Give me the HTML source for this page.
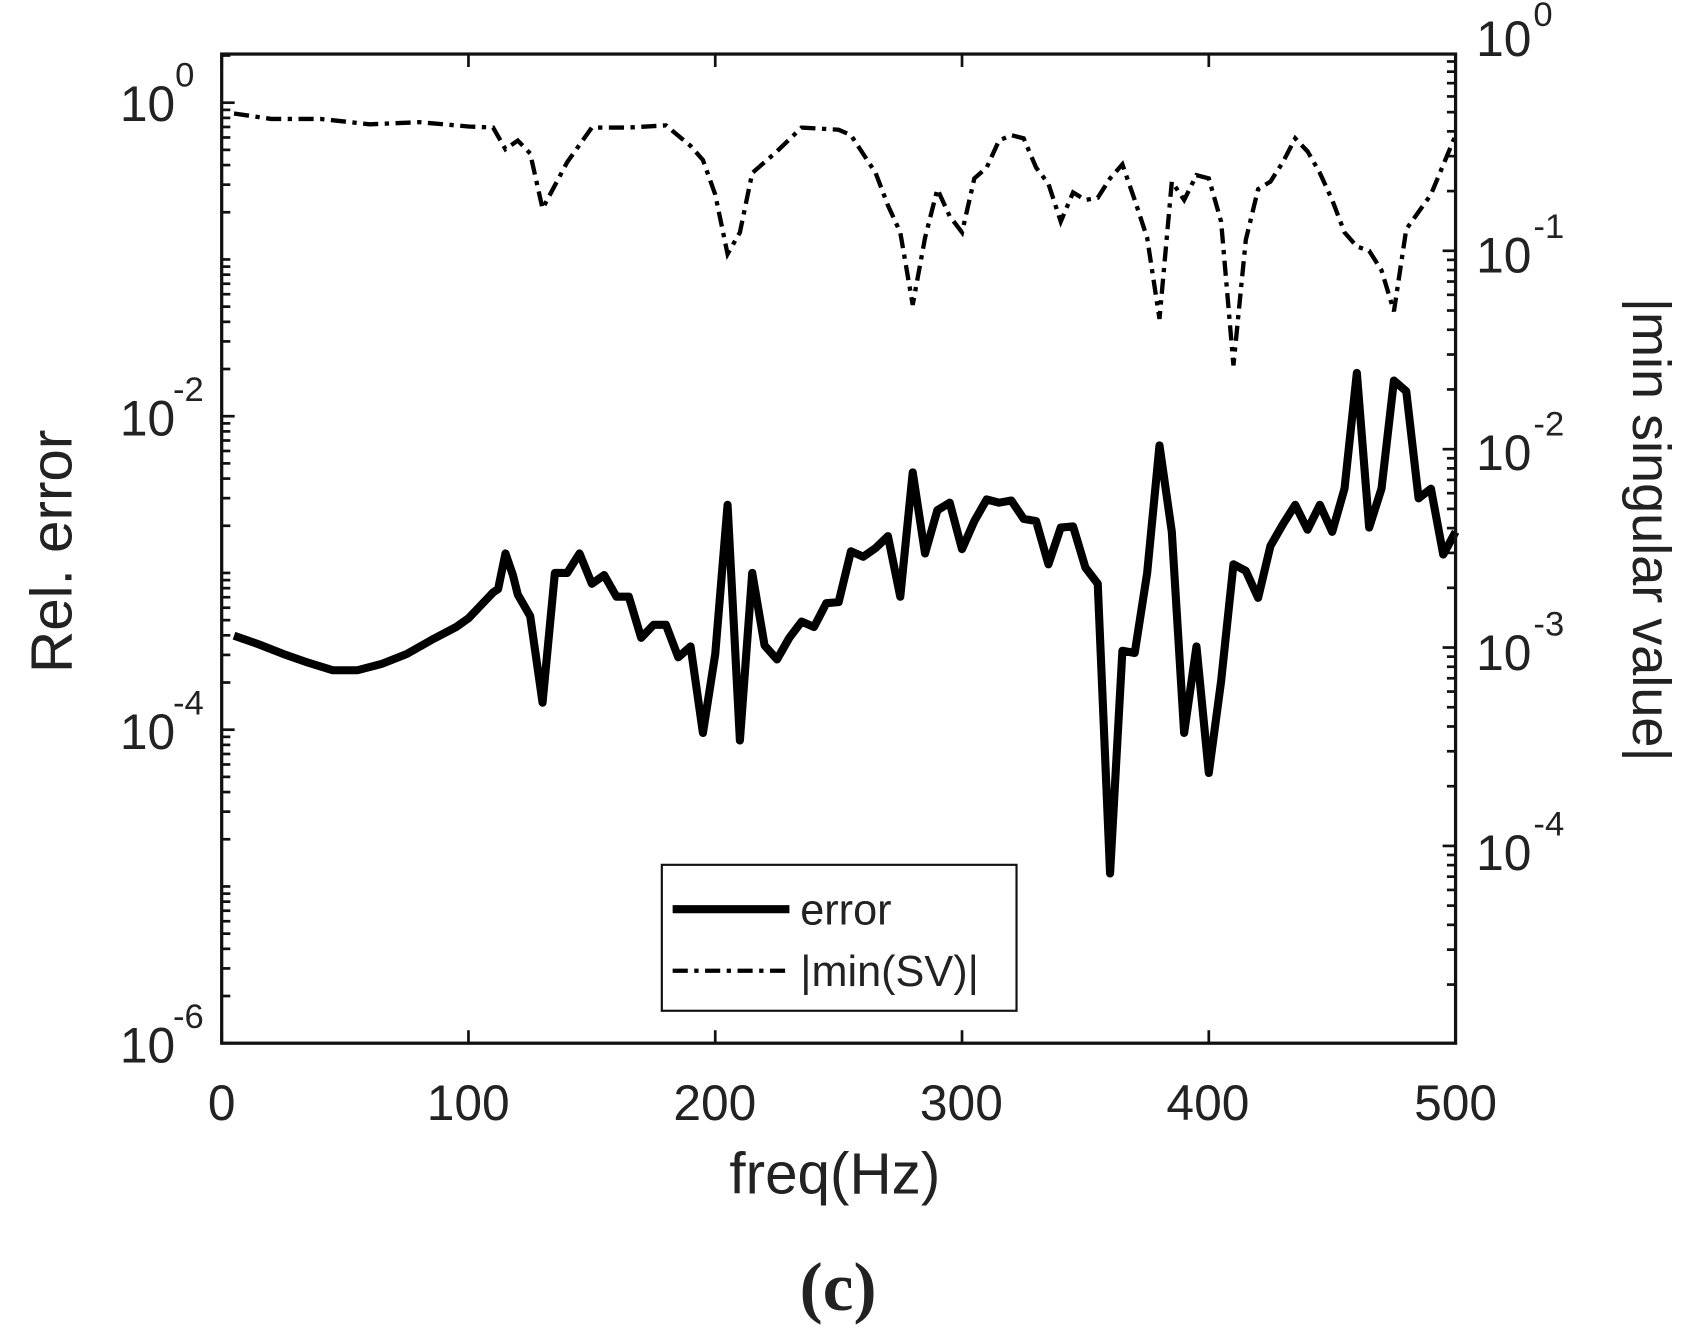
<!DOCTYPE html>
<html><head><meta charset="utf-8"><style>
html,body{margin:0;padding:0;background:#fff;}
svg{display:block;font-family:"Liberation Sans",Arial,sans-serif;}
</style></head><body>
<svg id="s" width="1687" height="1334" viewBox="0 0 1560 1234" preserveAspectRatio="none" xmlns="http://www.w3.org/2000/svg">
<rect x="0" y="0" width="1560" height="1234" fill="#fff"/>
<g id="ticks" stroke="#111" stroke-width="2.5"></g>
<polyline id="sv" fill="none" stroke="#000" stroke-width="4" stroke-dasharray="14,6,4,6"/>
<polyline id="er" fill="none" stroke="#000" stroke-width="7.5" stroke-linejoin="round"/>
<rect x="205" y="50" width="1141" height="915" fill="none" stroke="#111" stroke-width="3"/>
<g font-size="46" fill="#222">
<text x="205" y="1036" text-anchor="middle">0</text>
<text x="433" y="1036" text-anchor="middle">100</text>
<text x="661" y="1036" text-anchor="middle">200</text>
<text x="889" y="1036" text-anchor="middle">300</text>
<text x="1117" y="1036" text-anchor="middle">400</text>
<text x="1346" y="1036" text-anchor="middle">500</text>
<text x="162" y="112" text-anchor="end">10</text><text x="162" y="80" font-size="32">0</text>
<text x="162" y="403" text-anchor="end">10</text><text x="160" y="371" font-size="32">-2</text>
<text x="162" y="693" text-anchor="end">10</text><text x="160" y="661" font-size="32">-4</text>
<text x="162" y="983" text-anchor="end">10</text><text x="160" y="951" font-size="32">-6</text>
<text x="1365" y="52">10</text><text x="1418" y="24" font-size="32">0</text>
<text x="1365" y="252">10</text><text x="1418" y="220" font-size="32">-1</text>
<text x="1365" y="435">10</text><text x="1418" y="403" font-size="32">-2</text>
<text x="1365" y="620">10</text><text x="1418" y="588" font-size="32">-3</text>
<text x="1365" y="805">10</text><text x="1418" y="773" font-size="32">-4</text>
<text x="772" y="1104" text-anchor="middle" font-size="54">freq(Hz)</text>
<text transform="translate(66,510) rotate(-90)" text-anchor="middle" font-size="54">Rel. error</text>
<text transform="translate(1510,490) rotate(90)" text-anchor="middle" font-size="50">|min singular value|</text>
</g>
<text x="775" y="1212" text-anchor="middle" font-size="64" font-weight="bold" font-family="Liberation Serif,serif" fill="#222">(c)</text>
<rect x="612" y="800" width="328" height="135" fill="#fff" stroke="#111" stroke-width="2"/>
<line x1="622" y1="841" x2="730" y2="841" stroke="#000" stroke-width="7.5"/>
<line x1="622" y1="898" x2="730" y2="898" stroke="#000" stroke-width="4" stroke-dasharray="14,6,4,6"/>
<text x="740" y="855" font-size="40" fill="#222">error</text>
<text x="740" y="912" font-size="40" fill="#222">|min(SV)|</text>
</svg>
<script>
var X=function(f){return 205+f*2.282;};
var er=[[5,588],[15,596],[25,605],[35,613],[45,620],[55,620],[65,614],[75,605],[85,592],[95,580],[100,572],[105,560],[110,548],[112,545],[115,512],[118,532],[120,550],[125,570],[130,650],[135,530],[140,530],[145,512],[150,540],[155,532],[160,552],[165,552],[170,590],[175,578],[180,578],[185,608],[190,598],[195,678],[200,605],[205,467],[210,685],[215,530],[220,597],[225,610],[230,590],[235,575],[240,580],[245,558],[250,557],[255,510],[260,515],[265,507],[270,496],[275,552],[280,437],[285,512],[290,472],[295,465],[300,508],[305,482],[310,462],[315,465],[320,463],[325,480],[330,482],[335,522],[340,488],[345,487],[350,525],[355,540],[360,808],[365,602],[370,604],[375,530],[380,412],[385,492],[390,678],[395,598],[400,715],[405,630],[410,522],[415,528],[420,553],[425,505],[430,485],[435,467],[440,490],[445,467],[450,492],[455,452],[460,345],[465,488],[470,452],[475,352],[480,362],[485,461],[490,452],[495,513],[500,492]];
var sv=[[5,105],[20,110],[40,110],[60,115],[80,113],[100,117],[110,118],[115,138],[120,130],[125,142],[130,193],[140,150],[150,118],[165,118],[180,116],[190,135],[195,148],[200,180],[205,235],[210,215],[215,160],[225,140],[235,118],[250,120],[255,125],[265,160],[270,190],[275,215],[280,282],[285,220],[290,175],[295,200],[300,215],[305,165],[310,155],[315,130],[320,125],[325,128],[330,155],[335,170],[340,205],[345,178],[350,185],[355,183],[360,165],[365,152],[370,185],[375,220],[380,295],[385,168],[390,185],[395,162],[400,165],[405,205],[410,338],[415,222],[420,175],[425,168],[430,150],[435,128],[440,140],[445,160],[450,185],[455,215],[460,228],[465,232],[470,250],[475,288],[480,212],[490,180],[500,125]];
function pts(a){return a.map(function(p){return X(p[0]).toFixed(1)+","+p[1];}).join(" ");}
document.getElementById("er").setAttribute("points",pts(er));
document.getElementById("sv").setAttribute("points",pts(sv));
var g=document.getElementById("ticks"),h="";
function L(x1,y1,x2,y2){h+='<line x1="'+x1+'" y1="'+y1+'" x2="'+x2+'" y2="'+y2+'"/>';}
for(var f=0;f<=500;f+=100){var x=X(f);L(x,965,x,953);L(x,50,x,62);}
for(var d=1;d>=-6;d--){for(var m=1;m<=9;m++){var y=95-(d+Math.log10(m))*145;if(y<50||y>965)continue;var len=(m==1&&(d%2==0))?12:8;L(205,y,205+len,y);}}
for(var d=0;d>=-5;d--){for(var m=1;m<=9;m++){var y=232-(d+1+Math.log10(m))*183.5;if(y<50||y>965)continue;var len=m==1?12:8;L(1346,y,1346-len,y);}}
g.innerHTML=h;
</script>
</body></html>
